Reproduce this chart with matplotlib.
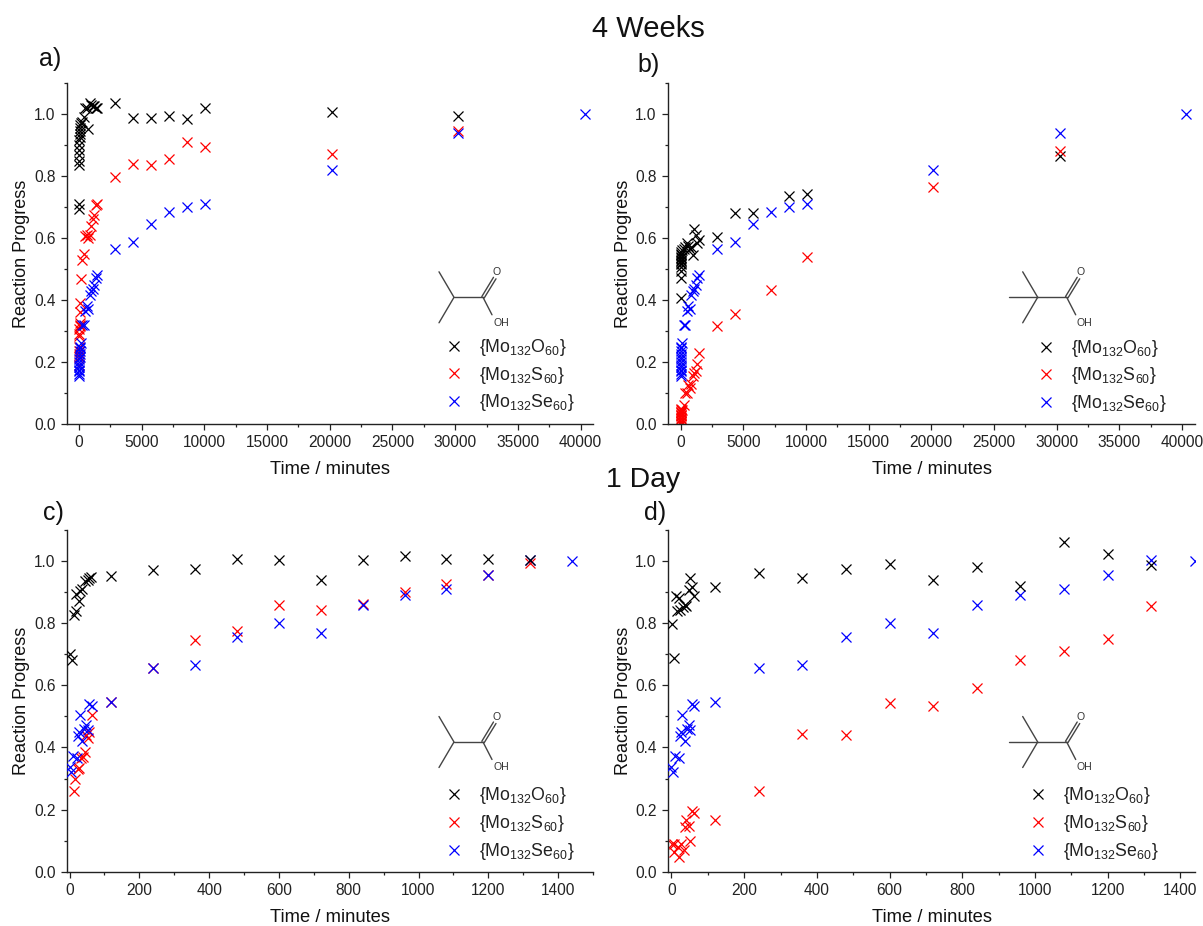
import matplotlib
matplotlib.use("Agg")
import matplotlib.pyplot as plt
from matplotlib.ticker import MultipleLocator

plt.rcParams['font.family'] = ['Liberation Sans', 'DejaVu Sans']
plt.rcParams['mathtext.fontset'] = 'custom'
plt.rcParams['mathtext.rm'] = 'Liberation Sans'
plt.rcParams['mathtext.default'] = 'regular'

nan = float('nan')

# ---------- data ----------
t_weeks = [0, 5, 10, 15, 20, 25, 30, 35, 40, 45, 50, 55, 60, 120, 240, 360, 480, 600, 720, 840,
           960, 1080, 1200, 1320, 1440, 2880, 4320, 5760, 7200, 8640, 10080, 20160, 30240, 40320]
a_o = [.695, .71, .835, .85, .868, .885, .9, .915, .925, .935, .945, .955, .965, .97, .975, .99, 1.02, 1.02,
       .953, 1.035, 1.03, 1.025, 1.025, 1.02, 1.02, 1.035, .988, .988, .995, .983, 1.018, 1.005, .995]
a_s = [.19, .215, .225, .235, .25, .285, .29, .305, .315, .32, .325, .36, .39, .467, .53, .548, .605, .61,
       .60, .61, .64, .66, .675, .705, .71, .796, .84, .834, .856, .91, .892, .872, .945]
a_se = [.155, .16, .17, .175, .185, .19, .2, .21, .215, .225, .235, .245, .25, .26, .318, .318, .365, .382,
        .37, .415, .428, .435, .45, .47, .48, .565, .587, .645, .685, .70, .71, .82, .94, 1.0]
b_o = [.405, .47, .495, .505, .515, .52, .525, .53, .535, .54, .545, .55, .555, .56, .565, .57, .585, .575,
       .565, .57, .545, .63, .61, .585, .595, .603, .682, .68, nan, .737, .743, nan, .865]
b_s = [.0, .005, .01, .015, .02, .025, .03, .03, .035, .04, .04, .045, .05, .045, .06, .1, .1, .125,
       .115, .13, .155, .165, .17, .195, .228, .317, .355, nan, .433, nan, .54, .765, .88]
b_se = a_se

t_se_day = [0, 5, 11, 21, 30, 23, 27, 37, 42, 48, 52, 57, 63, 120, 240, 360, 480, 600, 720, 840, 960, 1080, 1200, 1320, 1440]
se_day = [.338, .32, .373, .367, .504, .437, .45, .42, .458, .472, .456, .54, .535, .545, .655, .665, .755, .80,
          .77, .86, .89, .91, .955, 1.005, 1.0]

t_c_o = [0, 6, 13, 17, 28, 19, 31, 37, 45, 52, 57, 62, 120, 240, 360, 480, 600, 720, 840, 960, 1080, 1200, 1320]
c_o = [.70, .683, .826, .84, .87, .895, .905, .91, .935, .94, .945, .95, .953, .97, .975, 1.006, 1.004, .94,
       1.003, 1.015, 1.008, 1.006, 1.005]
t_c_s = [12, 16, 23, 28, 34, 38, 44, 48, 54, 57, 63, 120, 240, 360, 480, 600, 720, 840, 960, 1080, 1200, 1320]
c_s = [.26, .30, .33, .335, .365, .37, .385, .44, .43, .45, .505, .545, .655, .747, .775, .857, .843, .862, .9,
       .925, .955, .995]

t_d_o = [2, 8, 13, 21, 16, 23, 32, 36, 39, 47, 52, 57, 63, 120, 240, 360, 480, 600, 720, 840, 960, 1080, 1200, 1320]
d_o = [.798, .688, .888, .88, .838, .842, .853, .857, .855, .907, .946, .916, .889, .917, .962, .944, .973, .992,
       .94, .98, .92, 1.062, 1.024, .988]
t_d_s = [2, 8, 6, 17, 22, 25, 34, 36, 41, 47, 52, 57, 63, 120, 240, 360, 480, 600, 720, 840, 960, 1080, 1200, 1320]
d_s = [.09, .09, .065, .08, .046, .09, .07, .143, .165, .147, .1, .195, .188, .167, .26, .443, .44, .542, .535,
       .59, .683, .712, .75, .855]

labels = ['{Mo$_{132}$O$_{60}$}', '{Mo$_{132}$S$_{60}$}', '{Mo$_{132}$Se$_{60}$}']
xticks_weeks = [0, 5000, 10000, 15000, 20000, 25000, 30000, 35000, 40000]
xticks_day = [0, 200, 400, 600, 800, 1000, 1200, 1400]
yticks = [0.0, 0.2, 0.4, 0.6, 0.8, 1.0]

# ---------- figure ----------
W, H = 1203, 926
fig = plt.figure(figsize=(W / 100, H / 100), dpi=100, facecolor='white')
ov = fig.add_axes([0, 0, 1, 1], zorder=5)
ov.set_xlim(0, W); ov.set_ylim(H, 0); ov.axis('off'); ov.patch.set_alpha(0)


def make_axes(left, right, top, bottom, xlim, xticks, xminor, xlab, ylab):
    ax = fig.add_axes([left / W, 1 - bottom / H, (right - left) / W, (bottom - top) / H])
    ax.set_xlim(*xlim); ax.set_ylim(0, 1.1)
    for s in ('top', 'right'):
        ax.spines[s].set_visible(False)
    for s in ('left', 'bottom'):
        ax.spines[s].set_linewidth(1.0); ax.spines[s].set_color('#222222')
    ax.set_xticks(xticks); ax.set_yticks(yticks)
    ax.set_yticklabels([f'{v:.1f}' for v in yticks])
    ax.xaxis.set_minor_locator(MultipleLocator(xminor))
    ax.yaxis.set_minor_locator(MultipleLocator(0.1))
    ax.tick_params(which='major', length=4.2, width=0.9, labelsize=11.2, pad=4, color='#222222', labelcolor='#222222')
    ax.tick_params(which='minor', length=2.4, width=0.9, color='#222222')
    ax.set_xlabel('Time / minutes', fontsize=13.2, color='#111111', va='center', ha='center')
    ax.set_ylabel('Reaction Progress', fontsize=13, color='#111111', va='center', ha='center')
    ax.xaxis.set_label_coords(xlab[0], xlab[1], transform=ov.transData)
    ax.yaxis.set_label_coords(ylab[0], ylab[1], transform=ov.transData)
    return ax


def scatter(ax, series, order=(1, 2, 3)):
    cols = ['#000000', '#ff0000', '#0000ff']
    hs = []
    for (t, y), c, lab, z in zip(series, cols, labels, order):
        h, = ax.plot(t[:len(y)], y, ls='none', marker='x', ms=6.5, mew=0.9, color=c, label=lab, zorder=z)
        hs.append(h)
    return hs


def legend(hs, mark_x, text_x, first_y):
    fs = 12.8
    fpx = fs * 100 / 72
    ov_leg = ov.legend(hs, labels, loc='center left', frameon=False, fontsize=fs, borderpad=0, borderaxespad=0,
                       handlelength=1, handletextpad=(text_x - mark_x - fpx / 2) / fpx, labelspacing=0.38,
                       numpoints=1, bbox_to_anchor=(mark_x - fpx / 2, first_y + 27), bbox_transform=ov.transData)
    for tx in ov_leg.get_texts():
        tx.set_color('#222222')
    return ov_leg


def molecule(ox, oy, tert):
    kw = dict(color='#444444', lw=1.0, solid_capstyle='round')
    bx, by = ox, oy
    cc = bx + 29
    ov.plot([bx - 15, bx, bx - 15], [by - 25.5, by, by + 25.5], **kw)
    if tert:
        ov.plot([bx - 29, bx], [by, by], **kw)
    ov.plot([bx, cc], [by, by], **kw)
    ov.plot([cc - 1.2, cc + 10.5], [by - 0.7, by - 20], **kw)
    ov.plot([cc + 1.2, cc + 13], [by + 0.7, by - 18.5], **kw)
    ov.plot([cc, cc + 9], [by, by + 17.5], **kw)
    ov.text(cc + 14, by - 25.5, 'O', fontsize=7.6, ha='center', va='center', color='#333333')
    ov.text(cc + 18, by + 25.5, 'OH', fontsize=7.6, ha='center', va='center', color='#333333')


ax_a = make_axes(67, 593, 83, 424, (-957, 40990), xticks_weeks, 2500, (329.5, 470), (22, 253.7))
ax_b = make_axes(668, 1195, 83, 424, (-997, 41030), xticks_weeks, 2500, (931.5, 470), (623, 253.7))
ax_c = make_axes(67, 593, 530, 871.7, (-7.4, 1500), xticks_day, 100, (329.5, 917), (22, 700.8))
ax_d = make_axes(668, 1195, 530, 871.7, (-9.6, 1440), xticks_day, 100, (931.5, 917), (623, 700.8))

h_a = scatter(ax_a, [(t_weeks, a_o), (t_weeks, a_s), (t_weeks, a_se)])
h_b = scatter(ax_b, [(t_weeks, b_o), (t_weeks, b_s), (t_weeks, b_se)])
h_c = scatter(ax_c, [(t_c_o, c_o), (t_c_s, c_s), (t_se_day, se_day)], order=(4, 2, 3))
h_d = scatter(ax_d, [(t_d_o, d_o), (t_d_s, d_s), (t_se_day, se_day)], order=(4, 2, 3))

legends = [legend(h_a, 454, 479, 348), legend(h_b, 1045.7, 1071, 349),
           legend(h_c, 454, 479, 796.5), legend(h_d, 1038.3, 1063, 796.5)]
for lg in legends[:-1]:
    ov.add_artist(lg)

molecule(454, 297.3, False)
molecule(1037.7, 297.3, True)
molecule(454, 742, False)
molecule(1037.7, 742, True)

txt = dict(ha='center', va='center', color='#111111')
ov.text(648, 29, '4 Weeks', fontsize=21, **txt)
ov.text(643, 480, '1 Day', fontsize=20.4, **txt)
ov.text(50.5, 59, 'a)', fontsize=18, **txt)
ov.text(649, 65, 'b)', fontsize=18, **txt)
ov.text(53, 513, 'c)', fontsize=18, **txt)
ov.text(655, 513, 'd)', fontsize=18, **txt)

fig.savefig('out.png', dpi=100, facecolor='white')
